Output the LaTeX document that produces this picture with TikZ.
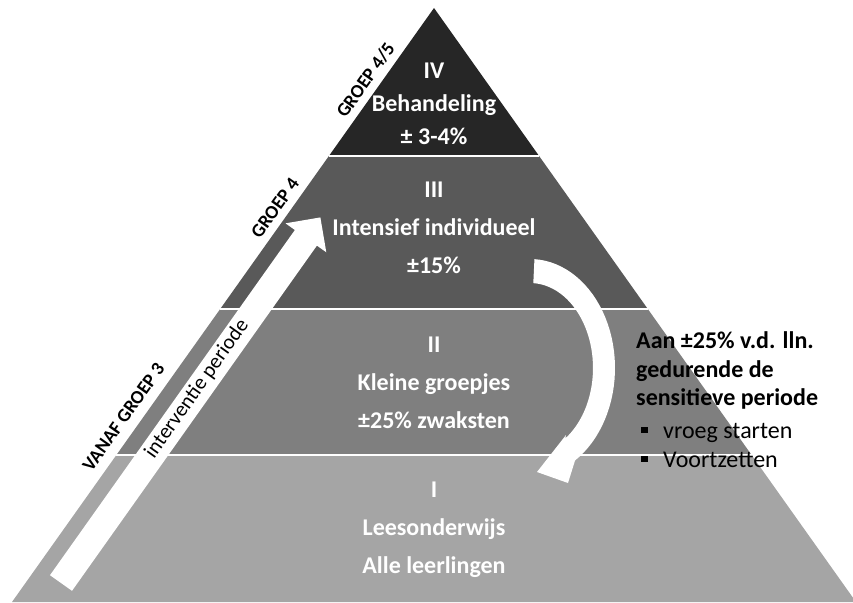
\documentclass[tikz,border=0pt]{standalone}
\usepackage{fontspec}
\setmainfont{Carlito}
\usepackage{tikz}
\usetikzlibrary{calc}

\definecolor{laagIV}{HTML}{262626}
\definecolor{laagIII}{HTML}{595959}
\definecolor{laagII}{HTML}{7F7F7F}
\definecolor{laagI}{HTML}{A5A5A5}

\begin{document}
\begin{tikzpicture}[x=1pt,y=-1pt,
	laag_text/.style={text=white,align=center,font=\fontsize{24}{38}\selectfont\bfseries},
	groep_label/.style={rotate=54.6,font=\fontsize{19}{19}\selectfont\bfseries},
	uitleg/.style={anchor=base west,inner sep=0pt,font=\fontsize{24}{28}\selectfont\bfseries},
	punt/.style={anchor=base west,inner sep=0pt,font=\fontsize{24}{31}\selectfont}]
				\useasboundingbox (0,0) rectangle (853,602);
				\clip (0,0) rectangle (853,602);
				% piramide
				\coordinate (top) at (434,8);
				\coordinate (l1) at (328.9,156); \coordinate (r1) at (539.1,156);
				\coordinate (l2) at (220.2,309); \coordinate (r2) at (647.8,309);
				\coordinate (l3) at (116.4,455); \coordinate (r3) at (751.6,455);
				\coordinate (bl) at (12,602); \coordinate (br) at (856,602);
				\fill[laagIV] (top) -- (r1) -- (l1) -- cycle;
				\fill[laagIII] (l1) -- (r1) -- (r2) -- (l2) -- cycle;
				\fill[laagII] (l2) -- (r2) -- (r3) -- (l3) -- cycle;
				\fill[laagI] (l3) -- (r3) -- (br) -- (bl) -- cycle;
				\draw[white,line width=2.5pt] (l1) -- (r1) (l2) -- (r2) (l3) -- (r3);
				% pijl interventie periode
				\coordinate (voet) at (61,583);
				\coordinate (hals) at (305.9,237.8);
				\fill[white] ($(voet)!13.5pt!-90:(hals)$) -- ($(hals)!13.5pt!90:(voet)$) -- ($(hals)!25pt!90:(voet)$)
				-- ($(hals)!25pt!180:(voet)$) -- ($(hals)!25pt!-90:(voet)$) -- ($(hals)!13.5pt!-90:(voet)$) -- ($(voet)!13.5pt!90:(hals)$) -- cycle;
				\node[rotate=54.6,font=\fontsize{21}{21}\selectfont] (periode) at (197,389) {interventie periode};
				% gebogen pijl
				\fill[white] plot[domain=-87:58,samples=40] ({530+85*cos(\x)},{368+109*sin(\x)}) -- (568,483) -- (537,472) -- (566,435)
				-- plot[domain=56:-87,samples=40] ({530+63*cos(\x)},{368+85*sin(\x)}) -- cycle;
				% groepen
				\node[groep_label] (vanaf) at (123.5,417) {VANAF GROEP 3};
				\node[groep_label] (groep4) at (275,208) {GROEP 4};
				\node[groep_label] (groep45) at (365.5,80) {GROEP 4/5};
				% lagen
				\node[laag_text,font=\fontsize{24}{33}\selectfont\bfseries] (IV) at (434,104) {IV\\Behandeling\\± 3-4\%};
				\node[laag_text] (III) at (434,228) {III\\Intensief individueel\\±15\%};
				\node[laag_text] (II) at (434,383) {II\\Kleine groepjes\\±25\% zwaksten};
				\node[laag_text] (I) at (434,530) {I\\Leesonderwijs\\Alle leerlingen};
				% uitleg rechts
				\node[uitleg] (aan) at (636,348) {Aan ±25\% v.d. lln.};
				\node[uitleg] (gedurende) at (636,377) {gedurende de};
				\node[uitleg] (sensitief) at (636,405) {sensitieve periode};
				\node[punt] (vroeg) at (641,438) {\makebox[22pt][l]{\rule[5pt]{6.5pt}{6.5pt}}vroeg starten};
				\node[punt] (voort) at (641,467) {\makebox[22pt][l]{\rule[5pt]{6.5pt}{6.5pt}}Voortzetten};
			\end{tikzpicture}
\end{document}
